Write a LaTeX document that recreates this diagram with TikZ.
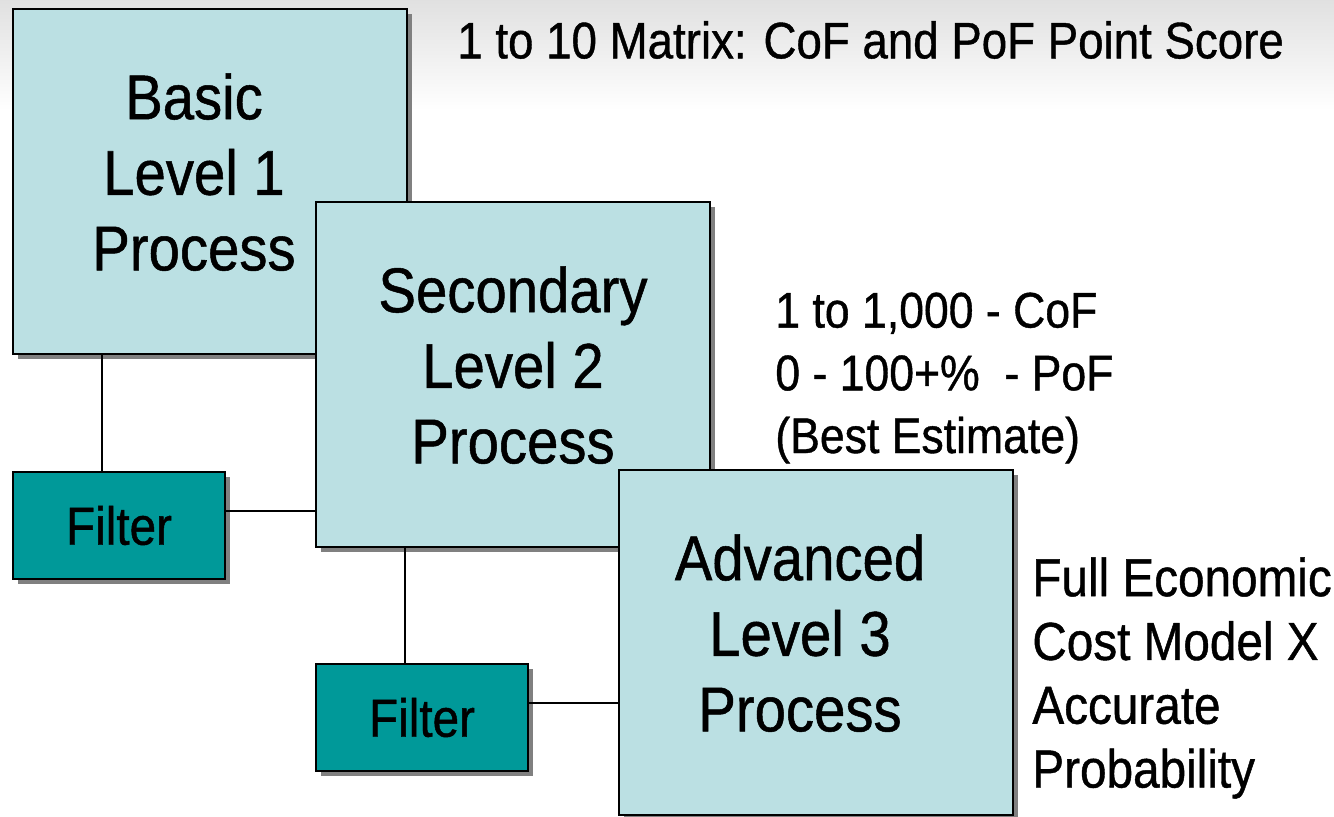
\documentclass[tikz,border=0pt]{standalone}
\usepackage{fontspec}
\setmainfont{Liberation Sans}[FakeStretch=0.89, FakeBold=0.8]
\usetikzlibrary{positioning, shadows}
\definecolor{paleteal}{HTML}{BBE0E3}
\definecolor{darkteal}{HTML}{009999}
\newcommand{\lvlnudge}{\rule{0.64cm}{0pt}}
\tikzset{level box/.style={draw, line width=1.2pt, fill=paleteal, minimum width=7.88cm, minimum height=6.9cm, anchor=north west, align=center, text depth=11pt, font=\fontsize{36}{43}\selectfont, drop shadow={shadow xshift=0.1cm, shadow yshift=-0.1cm, fill=black!50, opacity=1}},
  filter box/.style={level box, fill=darkteal, minimum width=4.24cm, minimum height=2.14cm, text depth=, font=\fontsize{30.5}{36}\selectfont},
  note/.style={anchor=west, align=left, inner sep=0pt, font=\fontsize{28.5}{35.7}\selectfont},
  link/.style={line width=1.2pt},}

\begin{document}
\begin{tikzpicture}[x=0.02cm, y=-0.02cm]
				\useasboundingbox (0,0) rectangle (1334,817);
				\shade[top color=black!12, bottom color=white] (0,0) rectangle (1334,110);
				% Levels
				\node[level box] (basic) at (12,8) {Basic\lvlnudge\\Level 1\lvlnudge\\Process\lvlnudge};
				\node[level box] (secondary) at (315,201) {Secondary\\Level 2\\Process};
				\node[level box] (advanced) at (618,469) {Advanced\lvlnudge\\Level 3\lvlnudge\\Process\lvlnudge};
				% Filters
				\node[filter box, below=2.32cm of basic.south west, anchor=north west] (filter1) {Filter};
				\node[filter box, below=2.3cm of secondary.south west, anchor=north west] (filter2) {Filter};
				% Notes
				\node[note, font=\fontsize{29.2}{35.7}\selectfont] (matrix) at (457,40) {1 to 10 Matrix: CoF and PoF Point Score};
				\node[note] (estimate) at (775,378) {1 to 1,000 - CoF\\0 - 100+\%~~- PoF\\(Best Estimate)};
				\node[note, font=\fontsize{30.5}{36.3}\selectfont] (economic) at (1032,678) {Full Economic\\Cost Model X\\Accurate\\Probability};
				% Links
				\draw[link] ([xshift=1.8cm]basic.south west) -- ([xshift=1.8cm]filter1.north west);
				\draw[link] ([yshift=0.3cm]filter1.east) -- ([yshift=0.3cm]filter1.east -| secondary.west);
				\draw[link] ([xshift=1.8cm]secondary.south west) -- ([xshift=1.8cm]filter2.north west);
				\draw[link] ([yshift=0.3cm]filter2.east) -- ([yshift=0.3cm]filter2.east -| advanced.west);
			\end{tikzpicture}
\end{document}
